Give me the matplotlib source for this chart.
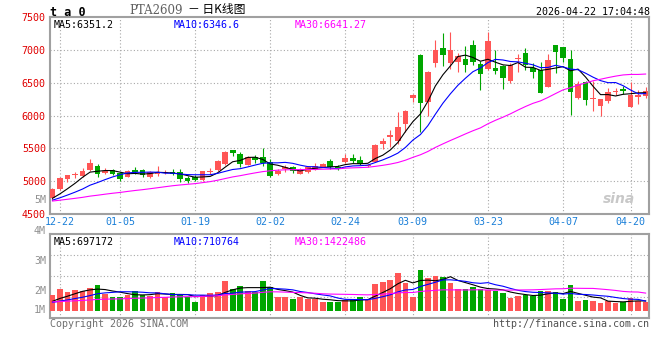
import matplotlib
matplotlib.use('Agg')
import numpy as np
import pandas as pd
import matplotlib.pyplot as plt

# PTA2609 daily bars, 2025-12-19 .. 2026-04-22 (80 sessions)
opens = [4740, 4880, 5030, 5100, 5085, 5170, 5227, 5120, 5170, 5130,
         5068, 5175, 5170, 5070, 5105, 5130, 5140, 5140, 5045, 5070,
         5020, 5140, 5170, 5262, 5470, 5414, 5251, 5364, 5373, 5292,
         5114, 5190, 5216, 5110, 5145, 5186, 5221, 5308, 5216, 5297,
         5358, 5323, 5225, 5297, 5567, 5674, 5613, 5876, 6268, 6923,
         6211, 6807, 7035, 6807, 6817, 6858, 7074, 6786, 6715, 6725,
         6755, 6532, 6865, 6954, 6725, 6695, 6440, 7074, 7040, 6868,
         6267, 6509, 6258, 6146, 6227, 6365, 6400, 6136, 6288, 6303]
highs = [4900, 5060, 5100, 5145, 5195, 5335, 5257, 5205, 5180, 5140,
         5170, 5215, 5180, 5150, 5230, 5165, 5185, 5185, 5075, 5090,
         5160, 5195, 5325, 5465, 5475, 5450, 5390, 5395, 5500, 5335,
         5185, 5250, 5236, 5200, 5230, 5277, 5280, 5333, 5240, 5415,
         5420, 5385, 5260, 5560, 5655, 5780, 6060, 6085, 6320, 6930,
         6680, 7150, 7250, 7265, 6950, 7060, 7150, 6830, 7265, 6990,
         6770, 6797, 6940, 7025, 6800, 6812, 6940, 7080, 7045, 7005,
         6530, 6530, 6520, 6250, 6420, 6415, 6450, 6507, 6390, 6440]
lows = [4720, 4870, 4990, 5055, 5070, 5150, 5060, 5105, 5090, 5000,
        5060, 5110, 5060, 5050, 5085, 5105, 5100, 4990, 4970, 5000,
        5010, 5105, 5160, 5245, 5385, 5210, 5245, 5272, 5230, 5070,
        5095, 5140, 5130, 5105, 5120, 5170, 5210, 5180, 5170, 5282,
        5275, 5250, 5215, 5290, 5485, 5525, 5560, 5755, 6200, 5755,
        5985, 6745, 6755, 6705, 6655, 6670, 6775, 6390, 6695, 6635,
        6405, 6490, 6655, 6700, 6577, 6345, 6430, 6650, 6810, 6010,
        6250, 6165, 6070, 5995, 6187, 6313, 6325, 6130, 6176, 6263]
closes = [4881, 5049, 5094, 5108, 5160, 5277, 5115, 5150, 5105, 5040,
          5155, 5140, 5100, 5140, 5140, 5135, 5105, 5035, 5008, 5018,
          5155, 5145, 5308, 5440, 5430, 5257, 5373, 5323, 5272, 5084,
          5160, 5216, 5160, 5160, 5212, 5236, 5267, 5216, 5186, 5358,
          5308, 5257, 5250, 5552, 5613, 5704, 5826, 6074, 6313, 6196,
          6669, 7000, 6923, 6990, 6908, 6776, 6821, 6639, 7137, 6684,
          6577, 6766, 6872, 6776, 6669, 6350, 6847, 6970, 6883, 6355,
          6479, 6242, 6265, 6248, 6359, 6372, 6370, 6309, 6313, 6374]
volumes = [1210000, 1670000, 1460000, 1590000, 1520000, 1770000, 1980000, 1280000, 1030000, 1080000,
           1210000, 1540000, 1210000, 1130000, 1460000, 1080000, 1380000, 1210000, 1080000, 690000,
           1210000, 1380000, 1460000, 2310000, 1670000, 1900000, 1540000, 1460000, 2310000, 1850000,
           1030000, 1080000, 900000, 1030000, 900000, 900000, 690000, 690000, 690000, 820000,
           900000, 1030000, 820000, 2050000, 2210000, 2360000, 2920000, 2150000, 1050000, 3130000,
           2520000, 2690000, 2590000, 2150000, 1690000, 1690000, 1850000, 1690000, 1590000, 1520000,
           1380000, 1000000, 1130000, 1180000, 1150000, 1520000, 1540000, 1460000, 920000, 1980000,
           770000, 820000, 750000, 620000, 720000, 620000, 690000, 980000, 770000, 690000]

# sessions before the window, only used to seed the moving averages
prior_closes = [4660, 4672, 4690, 4705, 4718, 4700, 4684, 4676, 4668, 4690,
                4712, 4725, 4706, 4688, 4670, 4662, 4680, 4698, 4712, 4700,
                4688, 4676, 4670, 4684, 4690, 4712, 4705, 4698, 4702]
prior_volumes = [720000, 680000, 650000, 700000, 740000, 690000, 660000, 710000, 730000, 680000,
                 650000, 700000, 720000, 690000, 670000, 640000, 700000, 760000, 720000, 690000,
                 620000, 560000, 540000, 520000, 500000, 560000, 610000, 640000, 600000]

tick_idx = [1, 9, 19, 29, 39, 48, 58, 68, 77]
tick_labels = ['12-22', '01-05', '01-19', '02-02', '02-24', '03-09', '03-23', '04-07', '04-20']
price_ticks = [4500, 5000, 5500, 6000, 6500, 7000, 7500]
vol_labels = ['5M', '4M', '3M', '2M', '1M']

RED = '#ff5555'
GREEN = '#00a600'
GRID = '#a8a8a8'
MONO = 'DejaVu Sans Mono'
FS = 7.2

n = len(closes)
x = np.arange(n)
up = np.array(closes) >= np.array(opens)
colors = [RED if u else GREEN for u in up]

all_close = pd.Series(prior_closes + closes)
all_vol = pd.Series(prior_volumes + volumes)
k = len(prior_closes)
ma = {p: all_close.rolling(p).mean().values[k:] for p in (5, 10, 30)}
vma = {p: all_vol.rolling(p).mean().values[k:] for p in (5, 10, 30)}
ma_colors = {5: 'black', 10: '#0000ff', 30: '#ff00ff'}

W, H = 660, 360
def frame(x0, y0, x1, y1):
    return [x0 / W, 1 - y1 / H, (x1 - x0) / W, (y1 - y0) / H]

fig = plt.figure(figsize=(6.6, 3.6), dpi=100)
ax = fig.add_axes(frame(50, 17, 649, 214))
axv = fig.add_axes(frame(50, 234, 649, 318))

xlim = (-0.33, 79.45)

# price panel
body_lo = np.minimum(opens, closes)
body_h = np.maximum(np.abs(np.array(closes) - np.array(opens)), 12)
ax.vlines(x, lows, highs, colors=colors, linewidth=0.8, zorder=2)
ax.bar(x, body_h, bottom=body_lo, width=0.76, color=colors, linewidth=0, zorder=3)
for p in (5, 10, 30):
    ax.plot(x, ma[p], color=ma_colors[p], linewidth=0.8, zorder=4)

ax.set_xlim(*xlim)
ax.set_ylim(4500, 7500)
ax.set_yticks(price_ticks)
ax.set_yticklabels([str(t) for t in price_ticks], color='#e00000', fontsize=FS, family=MONO)
ax.set_xticks(tick_idx)
ax.set_xticklabels(tick_labels, color='#1a7fd8', fontsize=FS, family=MONO)
ax.tick_params(length=0, pad=2)
ax.tick_params(axis='y', pad=3)
for t in price_ticks[1:-1]:
    ax.axhline(t, color=GRID, linewidth=0.8, linestyle=(0, (1, 2)), zorder=1)
for i in tick_idx:
    ax.axvline(i, color=GRID, linewidth=0.8, linestyle=(0, (1, 2)), zorder=1)

ax.text(0.006, 0.985, 'MA5:6351.2', transform=ax.transAxes, va='top', ha='left',
        color='black', fontsize=FS, family=MONO)
ax.text(0.207, 0.985, 'MA10:6346.6', transform=ax.transAxes, va='top', ha='left',
        color='#0000ff', fontsize=FS, family=MONO)
ax.text(0.409, 0.985, 'MA30:6641.27', transform=ax.transAxes, va='top', ha='left',
        color='#ff00ff', fontsize=FS, family=MONO)
ax.text(0.976, 0.075, 'sina', transform=ax.transAxes, ha='right', va='center',
        color='#c8c8c8', fontsize=10, fontweight='bold', style='italic')

# volume panel
axv.bar(x, volumes, width=0.76, color=colors, linewidth=0, zorder=3)
for p in (5, 10, 30):
    axv.plot(x, vma[p], color=ma_colors[p], linewidth=0.8, zorder=4)
axv.set_xlim(*xlim)
lo, hi = -560000, 5900000
axv.set_ylim(lo, hi)
axv.set_xticks([])
axv.set_yticks([])
for f in (0.25, 0.5, 0.75):
    axv.axhline(lo + f * (hi - lo), color=GRID, linewidth=0.8, linestyle=(0, (1, 2)), zorder=1)
for i in tick_idx:
    axv.axvline(i, color=GRID, linewidth=0.8, linestyle=(0, (1, 2)), zorder=1)

axv.text(0.006, 0.97, 'MA5:697172', transform=axv.transAxes, va='top', ha='left',
         color='black', fontsize=FS, family=MONO)
axv.text(0.207, 0.97, 'MA10:710764', transform=axv.transAxes, va='top', ha='left',
         color='#0000ff', fontsize=FS, family=MONO)
axv.text(0.409, 0.97, 'MA30:1422486', transform=axv.transAxes, va='top', ha='left',
         color='#ff00ff', fontsize=FS, family=MONO)

for lab, ypx in zip(vol_labels, [200, 231, 261, 291, 310]):
    fig.text(46 / W, 1 - ypx / H, lab, ha='right', va='center', color='#909090',
             fontsize=FS, family=MONO)

for a in (ax, axv):
    for s in a.spines.values():
        s.set_color('#a0a0a0')
        s.set_linewidth(1.5)

# header and footer
fig.text(50 / W, 1 - 12 / H, 't a 0', ha='left', va='center', color='black',
         fontsize=8.5, fontweight='bold', family=MONO)
fig.text(183 / W, 1 - 10 / H, 'PTA2609', ha='right', va='center', color='#606060',
         fontsize=8.5, family='DejaVu Serif')
fig.text(188 / W, 1 - 10 / H, '－ 日K线图', ha='left', va='center', color='black',
         fontsize=8.5, family=['Noto Sans CJK SC', 'DejaVu Sans'])
fig.text(650 / W, 1 - 12 / H, '2026-04-22 17:04:48', ha='right', va='center', color='black',
         fontsize=FS, family=MONO)
fig.text(50 / W, 1 - 324 / H, 'Copyright 2026 SINA.COM', ha='left', va='center', color='#707070',
         fontsize=FS, family=MONO)
fig.text(649 / W, 1 - 324 / H, 'http://finance.sina.com.cn', ha='right', va='center', color='#505050',
         fontsize=FS, family=MONO)

fig.savefig('out.png', dpi=100, facecolor='white')
